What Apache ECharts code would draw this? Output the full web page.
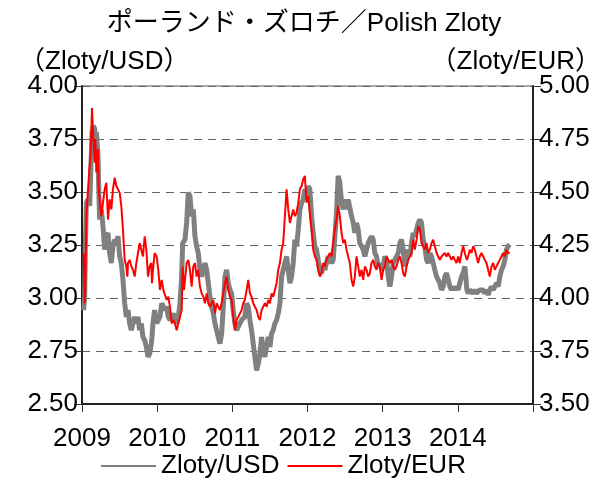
<!DOCTYPE html>
<html>
<head>
<meta charset="utf-8">
<title>Polish Zloty</title>
<script src="https://cdn.jsdelivr.net/npm/echarts@6/dist/echarts.min.js"></script>
<style>html,body{margin:0;padding:0;background:#fff}#main{width:608px;height:486px}</style>
</head>
<body>
<div id="main"></div>
<script>
// decimal years
var dates = [
  2009.022, 2009.036, 2009.044, 2009.058, 2009.080, 2009.102, 2009.115, 2009.133, 2009.151, 2009.169,
  2009.177, 2009.191, 2009.213, 2009.222, 2009.235, 2009.257, 2009.279, 2009.302, 2009.324, 2009.346,
  2009.368, 2009.390, 2009.412, 2009.435, 2009.457, 2009.479, 2009.501, 2009.523, 2009.545, 2009.568,
  2009.590, 2009.603, 2009.612, 2009.634, 2009.656, 2009.678, 2009.701, 2009.723, 2009.745, 2009.767,
  2009.789, 2009.811, 2009.834, 2009.856, 2009.878, 2009.900, 2009.922, 2009.931, 2009.944, 2009.966,
  2009.993, 2010.015, 2010.037, 2010.060, 2010.082, 2010.104, 2010.126, 2010.148, 2010.170, 2010.193,
  2010.215, 2010.237, 2010.259, 2010.281, 2010.303, 2010.326, 2010.339, 2010.357, 2010.370, 2010.392,
  2010.414, 2010.436, 2010.459, 2010.481, 2010.503, 2010.525, 2010.547, 2010.569, 2010.592, 2010.614,
  2010.636, 2010.658, 2010.680, 2010.702, 2010.725, 2010.747, 2010.769, 2010.791, 2010.813, 2010.835,
  2010.858, 2010.880, 2010.902, 2010.924, 2010.946, 2010.968,
  2010.990, 2011.012, 2011.034, 2011.057, 2011.079, 2011.101, 2011.123, 2011.145, 2011.167, 2011.190,
  2011.212, 2011.234, 2011.256, 2011.278, 2011.300, 2011.323, 2011.345, 2011.367, 2011.389, 2011.411,
  2011.433, 2011.456, 2011.478, 2011.500, 2011.522, 2011.544, 2011.566, 2011.589, 2011.611, 2011.633,
  2011.655, 2011.677, 2011.699, 2011.722, 2011.744, 2011.766, 2011.788, 2011.810, 2011.832, 2011.855,
  2011.877, 2011.899, 2011.921, 2011.943, 2011.965,
  2011.987, 2012.009, 2012.031, 2012.054, 2012.076, 2012.098, 2012.120, 2012.142, 2012.164, 2012.187,
  2012.209, 2012.231, 2012.253, 2012.275, 2012.297, 2012.320, 2012.342, 2012.364, 2012.386, 2012.408,
  2012.430, 2012.453, 2012.475, 2012.497, 2012.519, 2012.541, 2012.563, 2012.586, 2012.608, 2012.630,
  2012.652, 2012.674, 2012.696, 2012.719, 2012.741, 2012.763, 2012.785, 2012.807, 2012.829, 2012.852,
  2012.874, 2012.896, 2012.918, 2012.940, 2012.962,
  2012.985, 2013.007, 2013.029, 2013.052, 2013.074, 2013.096, 2013.118, 2013.140, 2013.162, 2013.185,
  2013.207, 2013.229, 2013.251, 2013.273, 2013.295, 2013.318, 2013.340, 2013.362, 2013.384, 2013.406,
  2013.428, 2013.451, 2013.473, 2013.495, 2013.517, 2013.539, 2013.561, 2013.584, 2013.606, 2013.628,
  2013.650, 2013.672, 2013.694, 2013.717, 2013.739, 2013.761, 2013.783, 2013.805, 2013.827, 2013.850,
  2013.872, 2013.894, 2013.916, 2013.938, 2013.960,
  2013.982, 2014.004, 2014.026, 2014.049, 2014.071, 2014.093, 2014.106, 2014.120, 2014.137, 2014.159,
  2014.182, 2014.204, 2014.226, 2014.248, 2014.270, 2014.292, 2014.315, 2014.337, 2014.359, 2014.381,
  2014.403, 2014.425, 2014.448, 2014.470, 2014.492, 2014.514, 2014.536, 2014.558, 2014.581, 2014.603,
  2014.625, 2014.647, 2014.669, 2014.691
];

// Zloty per USD (left axis)
var usd = [
  2.943, 3.006, 3.228, 3.449, 3.465, 3.434, 3.576, 3.782, 3.813, 3.797,
  3.766, 3.782, 3.671, 3.528, 3.370, 3.418, 3.339, 3.228, 3.291, 3.307,
  3.212, 3.165, 3.244, 3.275, 3.259, 3.291, 3.196, 3.165, 3.085, 2.975,
  2.911, 2.927, 2.943, 2.880, 2.848, 2.880, 2.911, 2.880, 2.911, 2.848,
  2.880, 2.816, 2.801, 2.769, 2.722, 2.737, 2.785, 2.816, 2.880, 2.943,
  2.880, 2.896, 2.911, 2.975, 2.959, 2.943, 2.959, 2.911, 2.896, 2.911,
  2.927, 2.896, 2.880, 2.911, 2.975, 3.101, 3.259, 3.267, 3.275, 3.354,
  3.497, 3.481, 3.386, 3.418, 3.291, 3.244, 3.212, 3.133, 3.101, 3.133,
  3.165, 3.133, 3.070, 3.006, 2.959, 2.927, 2.880, 2.848, 2.816, 2.785,
  2.832, 2.959, 3.101, 3.133, 3.070, 3.038,
  3.022, 2.943, 2.880, 2.848, 2.864, 2.880, 2.896, 2.896, 2.911, 2.975,
  2.959, 2.896, 2.848, 2.785, 2.722, 2.658, 2.690, 2.737, 2.816, 2.753,
  2.722, 2.769, 2.816, 2.769, 2.832, 2.848, 2.880, 2.896, 2.927, 2.975,
  3.101, 3.133, 3.165, 3.196, 3.133, 3.070, 3.101, 3.165, 3.275, 3.244,
  3.323, 3.418, 3.449, 3.465, 3.513,
  3.481, 3.528, 3.513, 3.386, 3.307, 3.244, 3.228, 3.180, 3.133, 3.117,
  3.149, 3.133, 3.165, 3.196, 3.196, 3.165, 3.180, 3.291, 3.402, 3.576,
  3.544, 3.449, 3.418, 3.465, 3.418, 3.465, 3.465, 3.386, 3.354, 3.307,
  3.354, 3.323, 3.259, 3.244, 3.228, 3.196, 3.228, 3.259, 3.275, 3.291,
  3.275, 3.212, 3.196, 3.149, 3.165,
  3.133, 3.149, 3.196, 3.180, 3.101, 3.054, 3.101, 3.165, 3.180, 3.196,
  3.212, 3.259, 3.275, 3.228, 3.149, 3.180, 3.228, 3.196, 3.259, 3.307,
  3.291, 3.323, 3.354, 3.370, 3.354, 3.275, 3.244, 3.180, 3.165, 3.212,
  3.196, 3.165, 3.133, 3.101, 3.085, 3.070, 3.038, 3.054, 3.101, 3.117,
  3.085, 3.054, 3.038, 3.054, 3.038,
  3.054, 3.038, 3.070, 3.101, 3.117, 3.149, 3.101, 3.038, 3.022, 3.038,
  3.038, 3.022, 3.038, 3.022, 3.022, 3.038, 3.030, 3.038, 3.022, 3.038,
  3.014, 3.038, 3.054, 3.038, 3.054, 3.070, 3.054, 3.101, 3.133, 3.149,
  3.180, 3.228, 3.244, 3.252
];

// Zloty per EUR (right axis)
var eur = [
  4.212, 3.975, 4.038, 4.386, 4.513, 4.623, 4.671, 4.896, 4.750, 4.639,
  4.750, 4.592, 4.703, 4.513, 4.465, 4.386, 4.449, 4.513, 4.544, 4.370,
  4.465, 4.418, 4.513, 4.568, 4.528, 4.513, 4.497, 4.434, 4.323, 4.180,
  4.149, 4.101, 4.165, 4.180, 4.149, 4.133, 4.101, 4.165, 4.212, 4.259,
  4.228, 4.196, 4.291, 4.228, 4.101, 4.149, 4.165, 4.070, 4.133, 4.212,
  4.196, 4.133, 4.038, 4.085, 4.038, 4.038, 3.991, 4.006, 3.959, 3.880,
  3.896, 3.880, 3.848, 3.880, 3.911, 3.943, 4.149, 4.038, 4.085, 4.165,
  4.180, 4.133, 4.054, 4.149, 4.165, 4.101, 4.133, 4.054, 4.022, 4.006,
  3.975, 4.022, 3.975, 3.959, 3.975, 3.991, 3.927, 3.975, 3.959, 3.943,
  3.975, 3.975, 4.070, 4.101, 4.038, 4.006,
  3.991, 3.911, 3.848, 3.896, 3.911, 3.927, 3.943, 3.975, 3.991, 4.038,
  4.085, 4.022, 4.006, 3.975, 3.959, 3.943, 3.911, 3.896, 3.943, 3.959,
  3.975, 3.959, 3.991, 3.975, 4.022, 4.006, 4.038, 4.070, 4.133, 4.165,
  4.228, 4.259, 4.386, 4.513, 4.418, 4.354, 4.386, 4.418, 4.386, 4.402,
  4.449, 4.513, 4.528, 4.560, 4.576,
  4.449, 4.481, 4.402, 4.323, 4.228, 4.196, 4.180, 4.133, 4.101, 4.117,
  4.165, 4.149, 4.180, 4.196, 4.212, 4.196, 4.196, 4.323, 4.370, 4.434,
  4.386, 4.307, 4.259, 4.275, 4.228, 4.196, 4.165, 4.085, 4.054, 4.101,
  4.196, 4.149, 4.101, 4.133, 4.085, 4.149, 4.133, 4.101, 4.117, 4.165,
  4.180, 4.149, 4.133, 4.165, 4.149,
  4.085, 4.133, 4.149, 4.196, 4.180, 4.165, 4.180, 4.149, 4.133, 4.149,
  4.180, 4.196, 4.165, 4.117, 4.101, 4.149, 4.180, 4.196, 4.212, 4.275,
  4.228, 4.275, 4.339, 4.323, 4.259, 4.244, 4.228, 4.259, 4.212, 4.228,
  4.259, 4.275, 4.244, 4.212, 4.196, 4.180, 4.196, 4.196, 4.212, 4.196,
  4.212, 4.196, 4.180, 4.196, 4.180,
  4.165, 4.196, 4.165, 4.212, 4.244, 4.212, 4.196, 4.180, 4.196, 4.228,
  4.212, 4.244, 4.228, 4.196, 4.165, 4.196, 4.212, 4.196, 4.180, 4.165,
  4.133, 4.101, 4.149, 4.165, 4.133, 4.149, 4.165, 4.180, 4.196, 4.212,
  4.196, 4.228, 4.212, 4.212
];

var yearLabels = ['2009', '2010', '2011', '2012', '2013', '2014'];

var fontFamily = '"Liberation Sans", Arial, "Noto Sans CJK JP", sans-serif';

function pairs(xs, ys) {
  var out = [];
  for (var i = 0; i < xs.length; i++) {
    out.push([xs[i], ys[i]]);
  }
  return out;
}

var myChart = echarts.init(document.getElementById('main'));

var option = {
  animation: false,
  backgroundColor: '#fff',
  textStyle: { fontFamily: fontFamily, color: '#000' },
  title: [
    {
      text: 'ポーランド・ズロチ／Polish Zloty',
      left: 'center',
      top: 6,
      textStyle: { fontSize: 26, fontWeight: 'normal', color: '#000', fontFamily: fontFamily }
    },
    {
      text: '（Zloty/USD）',
      left: 14,
      top: 44,
      textStyle: { fontSize: 26, fontWeight: 'normal', color: '#000', fontFamily: fontFamily }
    },
    {
      text: '（Zloty/EUR）',
      right: 2,
      top: 44,
      textStyle: { fontSize: 26, fontWeight: 'normal', color: '#000', fontFamily: fontFamily }
    }
  ],
  legend: {
    left: 95,
    bottom: 2,
    itemWidth: 55,
    itemHeight: 14,
    itemGap: 7,
    // hide the round marker that line series put in the legend
    itemStyle: { opacity: 0 },
    textStyle: { fontSize: 26, color: '#000', fontFamily: fontFamily },
    data: ['Zloty/USD', 'Zloty/EUR']
  },
  grid: {
    left: 82,
    right: 75,
    top: 86,
    bottom: 82,
    show: true,
    borderColor: '#555',
    borderWidth: 1
  },
  xAxis: {
    type: 'value',
    min: 2009,
    max: 2015,
    interval: 1,
    axisLine: { onZero: false, lineStyle: { color: '#222', width: 2 } },
    axisTick: { length: 8, lineStyle: { color: '#333', width: 1 } },
    splitLine: { show: false },
    axisLabel: {
      margin: 22,
      fontSize: 26,
      color: '#000',
      fontFamily: fontFamily,
      formatter: function (v) {
        return yearLabels[Math.round(v) - 2009] || '';
      }
    }
  },
  yAxis: [
    {
      type: 'value',
      position: 'left',
      min: 2.5,
      max: 4.0,
      interval: 0.25,
      axisLine: { show: true, onZero: false, lineStyle: { color: '#222', width: 2 } },
      axisTick: { show: true, length: 8, lineStyle: { color: '#333', width: 1 } },
      splitLine: { show: true, lineStyle: { color: '#666', width: 1, type: [8, 6] } },
      axisLabel: {
        margin: 4,
        fontSize: 26,
        color: '#000',
        fontFamily: fontFamily,
        formatter: function (v) { return v.toFixed(2); }
      }
    },
    {
      type: 'value',
      position: 'right',
      min: 3.5,
      max: 5.0,
      interval: 0.25,
      axisLine: { show: true, onZero: false, lineStyle: { color: '#222', width: 2 } },
      axisTick: { show: true, length: 8, lineStyle: { color: '#333', width: 1 } },
      splitLine: { show: false },
      axisLabel: {
        margin: 6,
        fontSize: 26,
        color: '#000',
        fontFamily: fontFamily,
        formatter: function (v) { return v.toFixed(2); }
      }
    }
  ],
  series: [
    {
      name: 'Zloty/USD',
      type: 'line',
      yAxisIndex: 0,
      symbol: 'none',
      lineStyle: { color: '#808080', width: 5 },
      itemStyle: { color: '#808080' },
      data: pairs(dates, usd)
    },
    {
      name: 'Zloty/EUR',
      type: 'line',
      yAxisIndex: 1,
      symbol: 'none',
      lineStyle: { color: '#ff0000', width: 2 },
      itemStyle: { color: '#ff0000' },
      data: pairs(dates, eur)
    }
  ]
};

myChart.setOption(option);
</script>
</body>
</html>
